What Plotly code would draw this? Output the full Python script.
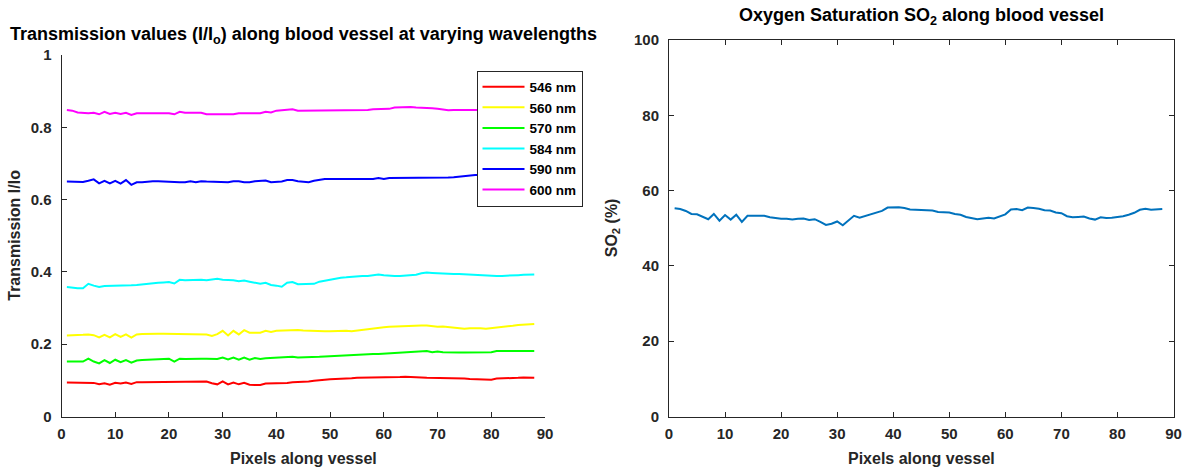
import plotly.graph_objects as go

pixels = list(range(1, 89))

t546 = [0.094, 0.094, 0.094, 0.094, 0.095, 0.093, 0.089, 0.092, 0.088, 0.093,
        0.091, 0.094, 0.090, 0.095, 0.095, 0.095, 0.095, 0.095, 0.095, 0.095,
        0.095, 0.095, 0.095, 0.095, 0.095, 0.095, 0.097, 0.092, 0.089, 0.097,
        0.089, 0.094, 0.089, 0.093, 0.088, 0.087, 0.087, 0.091, 0.091, 0.091,
        0.092, 0.093, 0.095, 0.095, 0.096, 0.097, 0.099, 0.101, 0.103, 0.103,
        0.104, 0.104, 0.105, 0.106, 0.107, 0.107, 0.108, 0.108, 0.108, 0.108,
        0.108, 0.109, 0.109, 0.110, 0.110, 0.109, 0.108, 0.107, 0.107, 0.106,
        0.105, 0.105, 0.105, 0.105, 0.105, 0.104, 0.104, 0.104, 0.103, 0.102,
        0.105, 0.105, 0.106, 0.107, 0.107, 0.108, 0.107, 0.107]

t560 = [0.224, 0.224, 0.225, 0.226, 0.227, 0.225, 0.219, 0.226, 0.219, 0.228,
        0.220, 0.227, 0.218, 0.227, 0.228, 0.229, 0.229, 0.229, 0.229, 0.229,
        0.227, 0.229, 0.228, 0.228, 0.228, 0.227, 0.227, 0.223, 0.228, 0.237,
        0.224, 0.237, 0.227, 0.239, 0.232, 0.232, 0.232, 0.237, 0.234, 0.237,
        0.238, 0.239, 0.240, 0.239, 0.238, 0.237, 0.237, 0.236, 0.236, 0.236,
        0.237, 0.238, 0.237, 0.236, 0.238, 0.240, 0.242, 0.244, 0.246, 0.247,
        0.248, 0.249, 0.250, 0.251, 0.252, 0.252, 0.252, 0.252, 0.250, 0.248,
        0.249, 0.247, 0.245, 0.244, 0.243, 0.244, 0.245, 0.244, 0.243, 0.245,
        0.246, 0.247, 0.249, 0.251, 0.253, 0.254, 0.256, 0.256]

t570 = [0.152, 0.152, 0.152, 0.152, 0.160, 0.152, 0.147, 0.156, 0.148, 0.157,
        0.150, 0.156, 0.149, 0.155, 0.156, 0.157, 0.158, 0.159, 0.160, 0.160,
        0.152, 0.160, 0.159, 0.160, 0.160, 0.160, 0.160, 0.159, 0.159, 0.163,
        0.158, 0.163, 0.157, 0.163, 0.157, 0.162, 0.159, 0.161, 0.162, 0.163,
        0.163, 0.166, 0.165, 0.163, 0.163, 0.163, 0.164, 0.165, 0.166, 0.167,
        0.168, 0.169, 0.170, 0.170, 0.171, 0.172, 0.172, 0.173, 0.173, 0.174,
        0.175, 0.176, 0.177, 0.179, 0.180, 0.180, 0.180, 0.181, 0.178, 0.180,
        0.178, 0.177, 0.177, 0.177, 0.177, 0.177, 0.177, 0.178, 0.178, 0.178,
        0.181, 0.181, 0.181, 0.181, 0.181, 0.181, 0.181, 0.181]

t584 = [0.358, 0.356, 0.355, 0.355, 0.367, 0.362, 0.358, 0.361, 0.361, 0.362,
        0.363, 0.361, 0.363, 0.364, 0.366, 0.367, 0.368, 0.370, 0.371, 0.372,
        0.368, 0.378, 0.377, 0.378, 0.379, 0.378, 0.377, 0.378, 0.381, 0.378,
        0.378, 0.377, 0.374, 0.376, 0.373, 0.370, 0.367, 0.370, 0.364, 0.362,
        0.359, 0.370, 0.372, 0.366, 0.366, 0.366, 0.367, 0.373, 0.376, 0.378,
        0.381, 0.384, 0.385, 0.387, 0.389, 0.389, 0.389, 0.390, 0.393, 0.391,
        0.389, 0.389, 0.389, 0.390, 0.391, 0.392, 0.396, 0.398, 0.397, 0.396,
        0.396, 0.395, 0.394, 0.394, 0.393, 0.393, 0.393, 0.391, 0.390, 0.389,
        0.389, 0.389, 0.389, 0.390, 0.391, 0.392, 0.393, 0.393]

t590 = [0.650, 0.649, 0.648, 0.649, 0.652, 0.656, 0.645, 0.652, 0.645, 0.652,
        0.644, 0.654, 0.641, 0.648, 0.648, 0.650, 0.651, 0.651, 0.650, 0.648,
        0.648, 0.648, 0.648, 0.651, 0.648, 0.651, 0.650, 0.650, 0.650, 0.648,
        0.648, 0.651, 0.651, 0.648, 0.648, 0.651, 0.651, 0.653, 0.648, 0.649,
        0.650, 0.654, 0.654, 0.651, 0.649, 0.648, 0.652, 0.655, 0.657, 0.657,
        0.657, 0.657, 0.657, 0.657, 0.657, 0.657, 0.657, 0.657, 0.660, 0.657,
        0.660, 0.660, 0.660, 0.660, 0.660, 0.660, 0.660, 0.660, 0.659, 0.660,
        0.660, 0.661, 0.662, 0.664, 0.666, 0.667, 0.668, 0.668, 0.668, 0.668,
        0.668, 0.668, 0.668, 0.668, 0.668, 0.668, 0.668, 0.668]

t600 = [0.848, 0.846, 0.841, 0.839, 0.839, 0.840, 0.836, 0.843, 0.837, 0.840,
        0.837, 0.840, 0.834, 0.839, 0.839, 0.839, 0.839, 0.839, 0.839, 0.839,
        0.836, 0.843, 0.840, 0.840, 0.840, 0.840, 0.836, 0.836, 0.836, 0.836,
        0.836, 0.836, 0.839, 0.839, 0.839, 0.839, 0.839, 0.843, 0.841, 0.846,
        0.848, 0.849, 0.850, 0.846, 0.846, 0.846, 0.846, 0.846, 0.848, 0.848,
        0.848, 0.848, 0.846, 0.846, 0.846, 0.846, 0.848, 0.850, 0.851, 0.852,
        0.851, 0.855, 0.856, 0.857, 0.856, 0.855, 0.855, 0.855, 0.853, 0.851,
        0.849, 0.847, 0.848, 0.848, 0.848, 0.847, 0.848, 0.848, 0.848, 0.848,
        0.848, 0.848, 0.848, 0.848, 0.848, 0.848, 0.848, 0.848]

so2 = [55.3, 55.1, 54.6, 53.8, 53.7, 53.1, 52.4, 53.8, 52.0, 53.5,
       52.3, 53.6, 51.7, 53.3, 53.3, 53.3, 53.3, 52.9, 52.6, 52.5,
       52.5, 52.3, 52.5, 52.6, 52.2, 52.4, 51.7, 50.9, 51.2, 51.8,
       50.8, 52.0, 53.3, 52.8, 53.3, 53.6, 54.3, 54.6, 55.5, 55.6,
       55.6, 55.4, 55.0, 54.9, 54.8, 54.8, 54.7, 54.3, 54.2, 54.2,
       53.8, 53.6, 53.0, 52.6, 52.4, 52.6, 52.8, 52.6, 53.2, 53.7,
       55.0, 55.1, 54.8, 55.5, 55.4, 55.2, 54.8, 54.7, 54.2, 54.0,
       53.2, 52.9, 53.0, 53.1, 52.6, 52.3, 52.9, 52.7, 52.8, 53.0,
       53.2, 53.6, 54.1, 54.9, 55.2, 54.9, 55.1, 55.1]

series_names = ["546 nm", "560 nm", "570 nm", "584 nm", "590 nm", "600 nm"]
series_vals = [t546, t560, t570, t584, t590, t600]
series_colors = ["#FF0000", "#FFFF00", "#00FF00", "#00FFFF", "#0000FF", "#FF00FF"]

xticks = [0, 10, 20, 30, 40, 50, 60, 70, 80, 90]
yticks_left = [0, 0.2, 0.4, 0.6, 0.8, 1]
ytick_left_text = ["0", "0.2", "0.4", "0.6", "0.8", "1"]
yticks_right = [0, 20, 40, 60, 80, 100]

FONT = "Liberation Sans"
INK = "#262626"
W, H = 1189, 473

# pixel geometry of the two axes boxes
L_X0, L_X1 = 61.5, 545
R_X0, R_X1 = 669, 1173.5
L_Y0, L_Y1 = 416.5, 55     # bottom, top (pixels from top)
R_Y0, R_Y1 = 416.5, 40

def fx(px):
    return px / W

def fy(py):
    return (H - py) / H

fig = go.Figure()
for name, vals, col in zip(series_names, series_vals, series_colors):
    fig.add_trace(go.Scatter(x=pixels, y=vals, mode="lines", name=name,
                             line=dict(color=col, width=2),
                             xaxis="x", yaxis="y"))

fig.add_trace(go.Scatter(x=pixels, y=so2, mode="lines", name="SO2",
                         line=dict(color="#0072BD", width=2),
                         xaxis="x2", yaxis="y2", showlegend=False))

tickfont = dict(family=FONT, size=15, color=INK, weight="bold")
axis_common = dict(showgrid=False, zeroline=False, showline=True, linecolor=INK,
                   linewidth=1, ticks="inside", ticklen=5, tickcolor=INK,
                   tickfont=tickfont, automargin=False)

fig.update_layout(
    width=W, height=H,
    margin=dict(l=0, r=0, t=0, b=0, autoexpand=False),
    paper_bgcolor="white", plot_bgcolor="white",
    font=dict(family=FONT, color=INK),
    xaxis=dict(domain=[fx(L_X0), fx(L_X1)], range=[0, 90], tickvals=xticks,
               anchor="y", ticklabelstandoff=3, **axis_common),
    yaxis=dict(domain=[fy(L_Y0), fy(L_Y1)], range=[0, 1], tickvals=yticks_left,
               ticktext=ytick_left_text, anchor="x", ticklabelstandoff=6, **axis_common),
    xaxis2=dict(domain=[fx(R_X0), fx(R_X1)], range=[0, 90], tickvals=xticks,
                anchor="y2", mirror="ticks", ticklabelstandoff=3, **axis_common),
    yaxis2=dict(domain=[fy(R_Y0), fy(R_Y1)], range=[0, 100], tickvals=yticks_right,
                anchor="x2", mirror="ticks", ticklabelstandoff=6, **axis_common),
    legend=dict(x=fx(476.5), y=fy(70.5), xanchor="left", yanchor="top",
                bordercolor=INK, borderwidth=1, bgcolor="white",
                font=dict(family=FONT, size=13.5, color="#000000", weight="bold"),
                itemwidth=42, tracegroupgap=0),
)

title_font = dict(family=FONT, size=18, color="#000000")
label_font = dict(family=FONT, size=16, color=INK)
annos = [
    dict(text="<b>Transmission values (I/I<sub>o</sub>) along blood vessel at varying wavelengths</b>",
         x=fx((L_X0 + L_X1) / 2), y=fy(36), font=title_font),
    dict(text="<b>Oxygen Saturation SO<sub>2</sub> along blood vessel</b>",
         x=fx((R_X0 + R_X1) / 2), y=fy(17), font=title_font),
    dict(text="<b>Pixels along vessel</b>", x=fx((L_X0 + L_X1) / 2), y=fy(458), font=label_font),
    dict(text="<b>Pixels along vessel</b>", x=fx((R_X0 + R_X1) / 2), y=fy(458), font=label_font),
    dict(text="<b>Transmission I/Io</b>", x=fx(15), y=fy((L_Y0 + L_Y1) / 2), font=label_font,
         textangle=-90),
    dict(text="<b>SO<sub>2</sub> (%)</b>", x=fx(612), y=fy((R_Y0 + R_Y1) / 2), font=label_font,
         textangle=-90),
]
for a in annos:
    a.update(xref="paper", yref="paper", xanchor="center", yanchor="middle", showarrow=False)
fig.update_layout(annotations=annos)

fig.write_html("out.html", config={"displayModeBar": False},
               post_script="document.body.style.margin='0px';")
